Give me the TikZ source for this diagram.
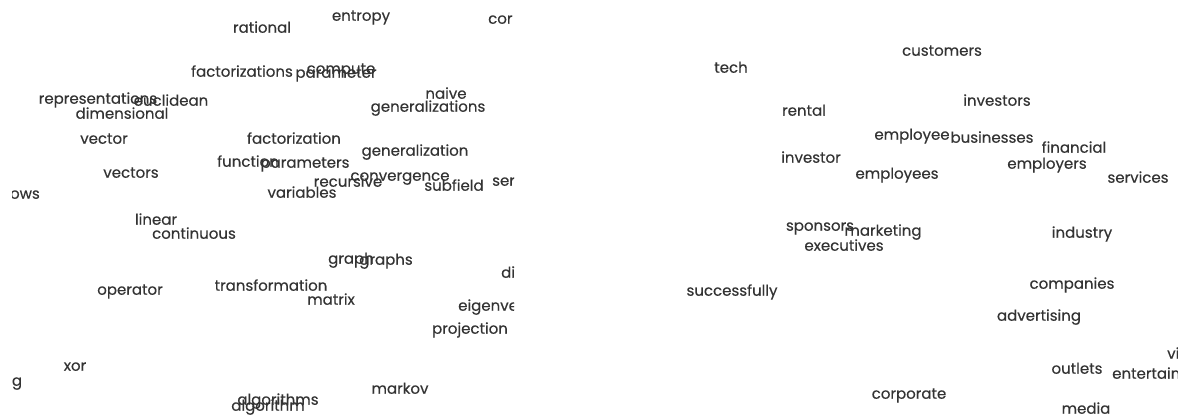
\documentclass[tikz,border=0pt]{standalone}
\usepackage{fontspec}
\setmainfont{Poppins}[FakeBold=0.35]
\definecolor{wordgray}{HTML}{333333}
\begin{document}
\begin{tikzpicture}[x=1pt,y=-1pt,
  word/.style={anchor=mid, yshift=-3pt, text=wordgray, font=\fontsize{15}{15}\selectfont, inner sep=0pt},
  wordw/.style={word, anchor=mid west},
  worde/.style={word, anchor=mid east}]
\useasboundingbox (0,0) rectangle (1178,417);
\fill[white] (0,0) rectangle (1178,417);
% left panel
\begin{scope}
\clip (12,0) rectangle (514,417);
\node[word] (rational) at (262,27) {rational};
\node[word] (entropy) at (361,15) {entropy};
\node[wordw] (cor) at (488,18) {cor};
\node[word] (factorizations) at (242,71) {factorizations};
\node[word] (parameter) at (336,72) {parameter};
\node[word] (compute) at (341,68) {compute};
\node[word] (representations) at (98,98) {representations};
\node[word] (euclidean) at (171,100) {euclidean};
\node[word] (dimensional) at (122,113) {dimensional};
\node[word] (naive) at (446,93) {naive};
\node[word] (generalizations) at (428,106) {generalizations};
\node[word] (vector) at (104,138) {vector};
\node[word] (factorization) at (294,138) {factorization};
\node[word] (generalization) at (415,150) {generalization};
\node[word] (function) at (248,161) {function};
\node[word] (parameters) at (305,162) {parameters};
\node[word] (vectors) at (131,172) {vectors};
\node[word] (convergence) at (400,175) {convergence};
\node[word] (recursive) at (348,181) {recursive};
\node[word] (subfield) at (454,185) {subfield};
\node[wordw] (ser) at (492,180) {ser};
\node[word] (variables) at (302,192) {variables};
\node[worde] (rows) at (40,193) {rows};
\node[word] (linear) at (156,219) {linear};
\node[word] (continuous) at (194,233) {continuous};
\node[word] (operator) at (130,289) {operator};
\node[word] (transformation) at (271,285) {transformation};
\node[word] (graph) at (351,258) {graph};
\node[word] (graphs) at (386,259) {graphs};
\node[wordw] (di) at (501,272) {di};
\node[word] (matrix) at (331,299) {matrix};
\node[wordw] (eigenv) at (458,305) {eigenvector};
\node[word] (projection) at (470,328) {projection};
\node[word] (xor) at (75,365) {xor};
\node[word] (g) at (17,380) {g};
\node[word] (markov) at (400,388) {markov};
\node[word] (algorithms) at (278,399) {algorithms};
\node[word] (algorithm) at (268,405) {algorithm};
\end{scope}
% right panel
\begin{scope}
\clip (600,0) rectangle (1178,417);
\node[word] (customers) at (942,50) {customers};
\node[word] (tech) at (731,67) {tech};
\node[word] (investors) at (997,100) {investors};
\node[word] (rental) at (804,110) {rental};
\node[word] (employee) at (912,134) {employee};
\node[word] (businesses) at (992,137) {businesses};
\node[word] (financial) at (1074,147) {financial};
\node[word] (investor) at (811,157) {investor};
\node[word] (employers) at (1047,163) {employers};
\node[word] (employees) at (897,173) {employees};
\node[word] (services) at (1138,177) {services};
\node[word] (sponsors) at (820,225) {sponsors};
\node[word] (marketing) at (883,230) {marketing};
\node[word] (industry) at (1082,232) {industry};
\node[word] (executives) at (844,245) {executives};
\node[word] (companies) at (1072,283) {companies};
\node[word] (successfully) at (732,290) {successfully};
\node[word] (advertising) at (1039,315) {advertising};
\node[wordw] (vi) at (1167,353) {vi};
\node[word] (outlets) at (1077,368) {outlets};
\node[wordw] (entertain) at (1112,373) {entertainment};
\node[word] (corporate) at (909,393) {corporate};
\node[word] (media) at (1086,408) {media};
\end{scope}
\end{tikzpicture}
\end{document}
